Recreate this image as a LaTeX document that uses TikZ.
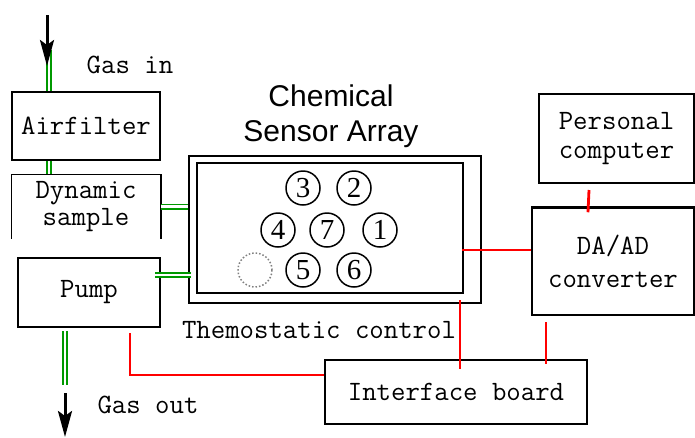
\documentclass[tikz,border=0pt]{standalone}
\usepackage{fontspec}
\usepackage{xcolor}
\newfontfamily\titlefont{Liberation Sans}
\newfontfamily\numfont{Liberation Serif}
\usetikzlibrary{arrows.meta,calc}

\begin{document}
\begin{tikzpicture}[
    x=1pt, y=-1pt,
    box/.style={draw,line width=1.5pt,inner sep=0pt,align=center,
                font=\ttfamily\fontsize{28}{29}\selectfont},
    plain/.style={inner sep=0pt,font=\ttfamily\fontsize{28}{29}\selectfont},
    sensor/.style={circle,draw,line width=1.5pt,minimum size=34pt,inner sep=0pt,
                   font=\numfont\fontsize{29}{29}\selectfont},
    gas/.style={draw=green!60!black,double=white,double distance=2.6pt,line width=1.7pt},
    wire/.style={red,line width=2.8pt},
    flow/.style={-{Stealth[length=26pt,width=14pt,inset=5pt]},line width=3pt},
  ]
  \useasboundingbox (0,0) rectangle (695,437);

  % gas path on the left
  \node[box,minimum width=148pt,minimum height=68pt] (filter) at (86,126) {Airfilter};
  \node[box,draw=none,minimum width=148pt,minimum height=63pt] (sampler) at (86,206.5)
    {Dynamic\\[-2pt]sample};
  \draw[line width=1.5pt] (sampler.south west) |- (sampler.north east) -- (sampler.south east);
  \node[box,minimum width=142pt,minimum height=69pt] (pump) at (89,292.5) {Pump};

  \coordinate (inlet)  at (49,50);
  \coordinate (outlet) at (65,385);
  \node[plain] (gasinlbl)  at (130,65)  {Gas in};
  \node[plain] (gasoutlbl) at (148,405) {Gas out};

  % sensor chamber
  \node[draw,line width=1.5pt,minimum width=292pt,minimum height=147pt] (array) at (335,229.5) {};
  \node[draw,line width=1.5pt,minimum width=266pt,minimum height=130pt] (inner) at (330,228) {};
  \node[align=center,inner sep=0pt,font=\titlefont\fontsize{30}{35}\selectfont] (title)
    at (331,116) {Chemical\\Sensor Array};
  \node[plain] (thermo) at (319,330) {Themostatic control};

  \node[sensor] (s3) at (303,188) {3};
  \node[sensor] (s2) at (354,188) {2};
  \node[sensor] (s4) at (278,230) {4};
  \node[sensor] (s7) at (327,230) {7};
  \node[sensor] (s1) at (380,230) {1};
  \node[sensor] (s5) at (303,270) {5};
  \node[sensor] (s6) at (354,270) {6};
  \node[sensor,draw=gray,dotted] (s0) at (255,270) {};

  % electronics
  \node[box,minimum width=155pt,minimum height=89pt] (pc) at (616.5,138.5)
    {Personal\\computer};
  \node[box,minimum width=162pt,minimum height=107pt] (conv) at (613,261.5)
    {DA/AD\\[4pt]converter};
  \draw[line width=3pt] (conv.north west) -- (conv.north east);
  \node[box,minimum width=262pt,minimum height=64pt] (board) at (456,392)
    {Interface board};

  % --- gas lines ---
  \draw[gas] (inlet) -- (inlet |- filter.north);
  \draw[gas] (inlet |- filter.south) -- (inlet |- sampler.north);
  \draw[gas] (sampler.east) -- (sampler.east -| array.west);
  \coordinate (pumpout) at (155,275);
  \draw[gas] (pumpout) -- ($(pumpout -| array.west)+(3,0)$);
  \draw[gas] ($(outlet |- pump.south)+(0,3)$) -- (outlet);

  \draw[flow] (47,15) -- (47,66);
  \draw[flow] (outlet |- 0,393) -- (65,437);

  % --- signal wires ---
  \coordinate (pumpw) at (130,333);
  \coordinate (arrw)  at (462,250);
  \coordinate (arrs)  at (460,300);
  \coordinate (convs) at (546,322);
  \coordinate (pcs)   at (589,190);
  \draw[wire] (pumpw) |- ($(board.west)+(0,-17)$);
  \draw[wire] (arrw) -- (arrw -| conv.west);
  \draw[wire] (arrs) -- ($(arrs |- board.north)+(0,10)$);
  \draw[wire] (convs) -- ($(convs |- board.north)+(0,5)$);
  \draw[wire] (pcs) -- ($(pcs |- conv.north)+(-1,5)$);

\end{tikzpicture}
\end{document}
